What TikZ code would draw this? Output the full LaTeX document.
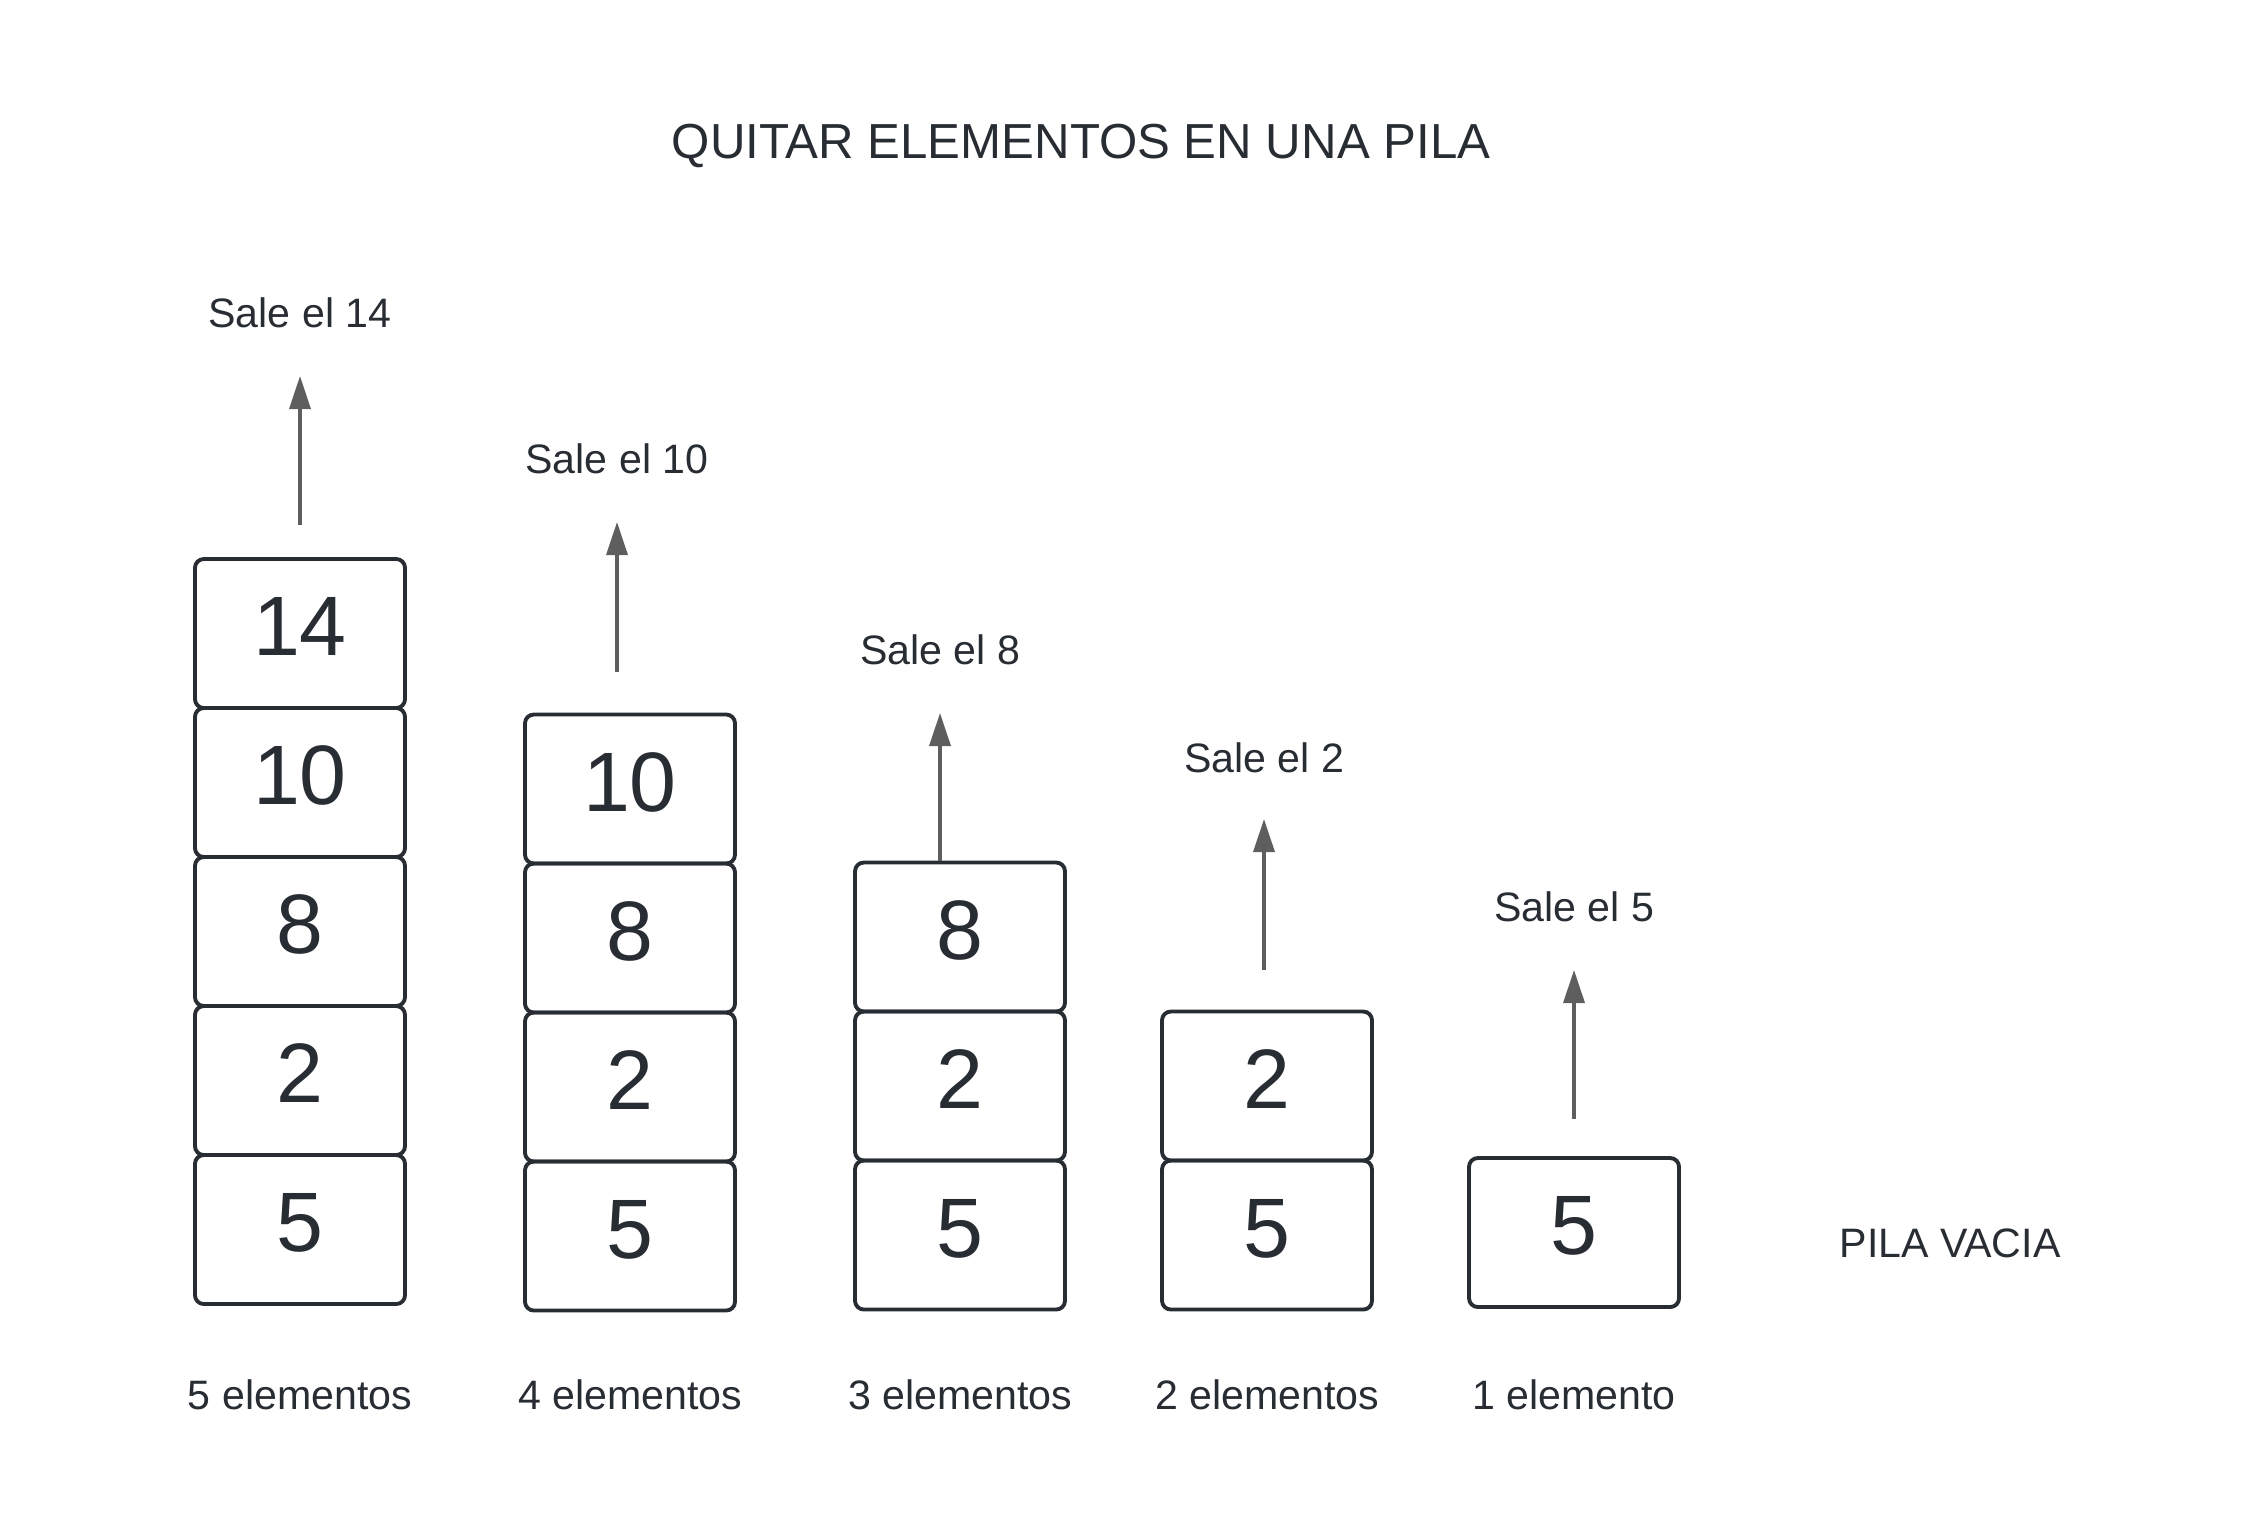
\documentclass[tikz,border=0pt]{standalone}
\usepackage{fontspec}
\setmainfont{Liberation Sans}
\usetikzlibrary{positioning,arrows.meta}
\definecolor{tinta}{HTML}{282C33}
\definecolor{gris}{HTML}{5E5E5E}
\begin{document}
\begin{tikzpicture}[x=1cm,y=1cm,
  caja/.style={draw=tinta,line width=1.1pt,rounded corners=2.5pt,minimum width=2.1cm,minimum height=1.49cm,outer sep=0pt,inner sep=0pt,text depth=0.14cm,text=tinta,font=\fontsize{24}{28}\selectfont},
  txt/.style={text=tinta,font=\fontsize{11.7}{14}\selectfont,inner sep=1pt},
  sale/.style={draw=gris,line width=1pt,-{Triangle[length=0.33cm,width=0.21cm]}}]
\useasboundingbox (0,0) rectangle (22.5,-15.32);
\node[txt,font=\fontsize{14}{17}\selectfont] (titulo) at (10.81,-1.46) {QUITAR ELEMENTOS EN UNA PILA};
% pila de 5
\node[caja] (a5) at (3.00,-12.295) {5};
\node[caja,above=0pt of a5] (a2) {2};
\node[caja,above=0pt of a2] (a8) {8};
\node[caja,above=0pt of a8] (a10) {10};
\node[caja,above=0pt of a10] (a14) {14};
\coordinate (ta) at (3.00,-5.25);
\coordinate (pa) at (3.00,-3.76);
\node[txt] (sa) at (3.00,-3.13) {Sale el 14};
\draw[sale] (ta) -- (pa);
\node[txt] (na) at (3.00,-13.95) {5 elementos};
% pila de 4
\node[caja] (b5) at (6.30,-12.36) {5};
\node[caja,above=0pt of b5] (b2) {2};
\node[caja,above=0pt of b2] (b8) {8};
\node[caja,above=0pt of b8] (b10) {10};
\coordinate (tb) at (6.17,-6.72);
\coordinate (pb) at (6.17,-5.22);
\node[txt] (sb) at (6.17,-4.59) {Sale el 10};
\draw[sale] (tb) -- (pb);
\node[txt] (nb) at (6.30,-13.95) {4 elementos};
% pila de 3
\node[caja] (c5) at (9.60,-12.35) {5};
\node[caja,above=0pt of c5] (c2) {2};
\node[caja,above=0pt of c2] (c8) {8};
\coordinate (tc) at (9.40,-8.61);
\coordinate (pc) at (9.40,-7.13);
\node[txt] (sc) at (9.40,-6.50) {Sale el 8};
\draw[sale] (tc) -- (pc);
\node[txt] (nc) at (9.60,-13.95) {3 elementos};
% pila de 2
\node[caja] (d5) at (12.67,-12.35) {5};
\node[caja,above=0pt of d5] (d2) {2};
\coordinate (td) at (12.64,-9.70);
\coordinate (pd) at (12.64,-8.19);
\node[txt] (sd) at (12.64,-7.58) {Sale el 2};
\draw[sale] (td) -- (pd);
\node[txt] (nd) at (12.67,-13.95) {2 elementos};
% pila de 1
\node[caja] (e5) at (15.74,-12.325) {5};
\coordinate (te) at (15.74,-11.19);
\coordinate (pe) at (15.74,-9.70);
\node[txt] (se) at (15.74,-9.07) {Sale el 5};
\draw[sale] (te) -- (pe);
\node[txt] (ne) at (15.74,-13.95) {1 elemento};
% vacia
\node[txt] (vacia) at (19.50,-12.43) {PILA VACIA};
\end{tikzpicture}
\end{document}
